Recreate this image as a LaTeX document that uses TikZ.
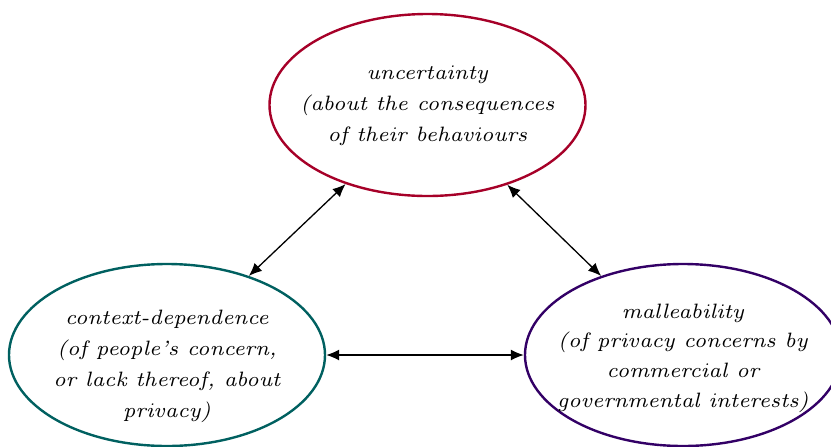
\documentclass[tikz,border=0pt]{standalone}
\usetikzlibrary{shapes.geometric,arrows.meta}
\definecolor{cred}{RGB}{166,0,40}
\definecolor{cteal}{RGB}{0,96,96}
\definecolor{cpurple}{RGB}{51,0,102}
\font\myitfont=cmti7 at 10.4pt
\tikzset{
  oval/.style={ellipse,draw=#1,line width=1.2pt,minimum width=158pt,minimum height=91pt,inner sep=0pt},
  txt/.style={align=center,font=\fontsize{10.4}{15.5}\selectfont\myitfont},
  link/.style={line width=0.65pt,{Latex[length=6.5pt,width=5.5pt]}-{Latex[length=6.5pt,width=5.5pt]}}
}
\begin{document}
\begin{tikzpicture}[x=0.5pt,y=-0.5pt]
\useasboundingbox (0,0) rectangle (831,446);
\node[oval=cred] (t) at (427.5,105) {};
\node[oval=cteal] (l) at (167,355) {};
\node[oval=cpurple] (r) at (683,355) {};
\node[txt] (tt) at (427.5,106) {uncertainty\\(about the consequences\\of their behaviours};
\node[txt] (lt) at (167,366) {context-dependence\\(of people's concern,\\or lack thereof, about\\privacy)};
\node[txt,font=\fontsize{10.4}{14.8}\selectfont\myitfont] (rt) at (683,358) {malleability\\(of privacy concerns by\\commercial or\\governmental interests)};
\draw[link] (l.44) -- (t.-136);
\draw[link] (t.-45) -- (r.136);
\draw[link] (l.east) -- (r.west);
\end{tikzpicture}
\end{document}
